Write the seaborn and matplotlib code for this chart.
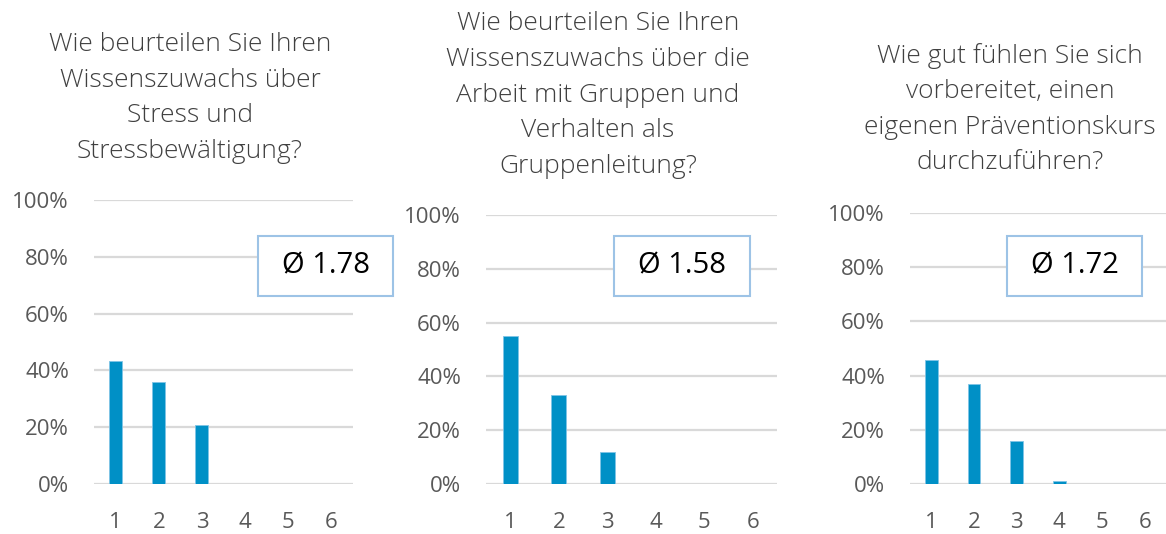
import matplotlib
matplotlib.use("Agg")
import matplotlib.pyplot as plt
from matplotlib.patches import Rectangle
import seaborn as sns

# answer scale 1..6, share of respondents (%)
categories = ["1", "2", "3", "4", "5", "6"]
stress_pct = [43.4, 35.8, 20.8, 0, 0, 0]
gruppen_pct = [55.2, 32.9, 11.8, 0, 0, 0]
kurs_pct = [45.7, 36.8, 15.7, 1.0, 0, 0]
averages = ["Ø 1.78", "Ø 1.58", "Ø 1.72"]
titles = [
    "Wie beurteilen Sie Ihren\nWissenszuwachs über\nStress und\nStressbewältigung?",
    "Wie beurteilen Sie Ihren\nWissenszuwachs über die\nArbeit mit Gruppen und\nVerhalten als\nGruppenleitung?",
    "Wie gut fühlen Sie sich\nvorbereitet, einen\neigenen Präventionskurs\ndurchzuführen?",
]
yticks = [0, 20, 40, 60, 80, 100]
ytick_labels = ["0%", "20%", "40%", "60%", "80%", "100%"]

sns.set_theme(style="white")
plt.rcParams["font.family"] = ["Open Sans", "DejaVu Sans"]

W, H = 1166, 534
fig = plt.figure(figsize=(W / 100, H / 100), dpi=100)

# axes boxes in pixels: left, right, y of 0%, y of 100%
boxes = [(94, 353, 484, 200), (486, 777, 484, 215), (910, 1166, 484, 213)]
title_pos = [(190, 98), (598, 95), (1010, 109)]
avg_boxes = [(258, 236, 135, 60), (614, 236, 136, 60), (1007, 236, 135, 60)]
series = [stress_pct, gruppen_pct, kurs_pct]

bar_color = "#0090C6"
grid_color = "#D9D9D9"
text_color = "#595959"

for i in range(3):
    l, r, y0, y100 = boxes[i]
    ax = fig.add_axes([l / W, 1 - y0 / H, (r - l) / W, (y0 - y100) / H])
    sns.barplot(x=categories, y=series[i], ax=ax, color=bar_color, width=0.3,
                edgecolor="#7FC4E6", linewidth=0.6, saturation=1)
    ax.set_xlim(-0.5, 5.5)
    ax.set_ylim(0, 100)
    ax.set_yticks(yticks)
    ax.set_yticklabels(ytick_labels)
    ax.yaxis.grid(True, color=grid_color, linewidth=1.6)
    ax.set_axisbelow(True)
    for s in ax.spines.values():
        s.set_visible(False)
    ax.tick_params(axis="y", length=0, pad=18, labelsize=16, labelcolor=text_color)
    ax.tick_params(axis="x", length=0, pad=20, labelsize=16, labelcolor=text_color)
    ax.set_xlabel("")
    ax.set_ylabel("")

    tx, ty = title_pos[i]
    fig.text(tx / W, 1 - ty / H, titles[i], ha="center", va="center",
             fontsize=19, color="#404040", linespacing=1.56, fontweight="light")

    bx, by, bw, bh = avg_boxes[i]
    fig.patches.append(Rectangle((bx / W, 1 - (by + bh) / H), bw / W, bh / H,
                                 transform=fig.transFigure, fill=True,
                                 facecolor="white", edgecolor="#9DC3E6",
                                 linewidth=1.5, zorder=5))
    fig.text((bx + bw / 2) / W, 1 - (by + bh / 2) / H, averages[i],
             ha="center", va="center", fontsize=21, color="black", zorder=6)

fig.savefig("out.png", dpi=100)
